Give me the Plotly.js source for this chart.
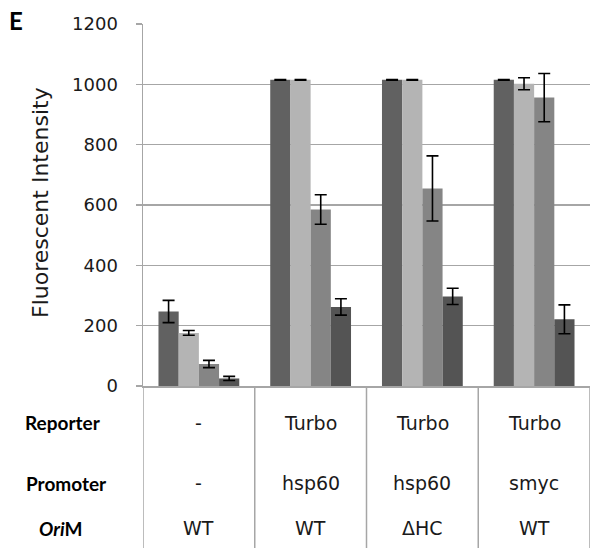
<!DOCTYPE html>
<html>
<head>
<meta charset="utf-8">
<script src="https://cdn.plot.ly/plotly-3.0.1.min.js"></script>
<style>html,body{margin:0;padding:0;background:#fff;}#chart{width:591px;height:548px;}</style>
</head>
<body>
<div id="chart"></div>
<script>
// Data
const groups = ["G1", "G2", "G3", "G4"];
const reporter = ["-", "Turbo", "Turbo", "Turbo"];
const promoter = ["-", "hsp60", "hsp60", "smyc"];
const oriM = ["WT", "WT", "\u0394HC", "WT"];
const seriesNames = ["Series 1", "Series 2", "Series 3", "Series 4"];
const s1 = [247, 1015, 1015, 1015];
const e1 = [37, 1, 1, 1];
const s2 = [176, 1015, 1015, 1002];
const e2 = [8, 1, 1, 20];
const s3 = [73, 585, 655, 956];
const e3 = [12, 49, 108, 80];
const s4 = [25, 262, 297, 221];
const e4 = [7, 27, 27, 48];
const yTicks = [0, 200, 400, 600, 800, 1000, 1200];
const rowLabels = ["Reporter", "Promoter", "<i>Ori</i>M"];

const colors = ["#616161", "#b4b4b4", "#858585", "#545454"];
const vals = [s1, s2, s3, s4];
const errs = [e1, e2, e3, e4];
const grid = "#a6a6a6";

const traces = vals.map((v, i) => ({
  type: "bar", x: groups, y: v, name: seriesNames[i],
  marker: {color: colors[i], line: {width: 0}},
  error_y: {type: "data", array: errs[i], visible: true, color: "#000", thickness: 1.6, width: 6}
}));

const W = 591, H = 548, L = 143, R = 1, T = 24, B = 162;
const pw = W - L - R, ph = H - T - B;
const px = p => (p - L) / pw;
const py = p => (H - B - p) / ph;

const shapes = [-0.5, 0.5, 1.5, 2.5, 3.5].map(x => ({
  type: "line", xref: "x", yref: "paper", x0: x, x1: x, y0: 0, y1: py(548),
  line: {color: grid, width: 1.5}
}));

const annotations = [];
const rows = [reporter, promoter, oriM];
const rowY = [423, 483, 528];
const rowX = [63, 66, 61];
rows.forEach((row, r) => {
  row.forEach((t, i) => annotations.push({
    x: groups[i], xref: "x", y: py(rowY[r]), yref: "paper", text: t, showarrow: false,
    xanchor: "center", yanchor: "middle",
    font: {family: "DejaVu Sans", size: 19, color: "#1a1a1a"}
  }));
  annotations.push({
    x: px(rowX[r]), xref: "paper", y: py(rowY[r]), yref: "paper", text: "<b>" + rowLabels[r] + "</b>",
    showarrow: false, xanchor: "center", yanchor: "middle",
    font: {family: "Lato", size: 19, color: "#000"}
  });
});
annotations.push({
  x: px(40), xref: "paper", y: py(203), yref: "paper", text: "Fluorescent Intensity",
  textangle: -90, showarrow: false, xanchor: "center", yanchor: "middle",
  font: {family: "DejaVu Sans", size: 22, color: "#1a1a1a"}
});
annotations.push({
  x: px(16), xref: "paper", y: py(21), yref: "paper", text: "<b>E</b>",
  showarrow: false, xanchor: "center", yanchor: "middle",
  font: {family: "Lato", size: 24, color: "#000"}
});

const layout = {
  width: W, height: H,
  margin: {l: L, r: R, t: T, b: B, pad: 0},
  paper_bgcolor: "#fff", plot_bgcolor: "#fff",
  showlegend: false,
  barmode: "group", bargap: 0.277, bargroupgap: 0,
  xaxis: {type: "category", showticklabels: false, ticks: "", showgrid: false,
    showline: true, linecolor: grid, linewidth: 1.5, zeroline: false, range: [-0.5, 3.5]},
  yaxis: {range: [0, 1200], tickvals: yTicks, ticktext: yTicks.map(String),
    showgrid: true, gridcolor: grid, gridwidth: 1.5, zeroline: false,
    showline: true, linecolor: grid, linewidth: 1.5,
    ticks: "outside", ticklen: 6, tickcolor: grid, tickwidth: 1.5, ticklabelstandoff: 14,
    tickfont: {family: "DejaVu Sans", size: 18, color: "#1a1a1a"}},
  shapes: shapes, annotations: annotations
};

Plotly.newPlot("chart", traces, layout, {displayModeBar: false, staticPlot: true});
</script>
</body>
</html>
